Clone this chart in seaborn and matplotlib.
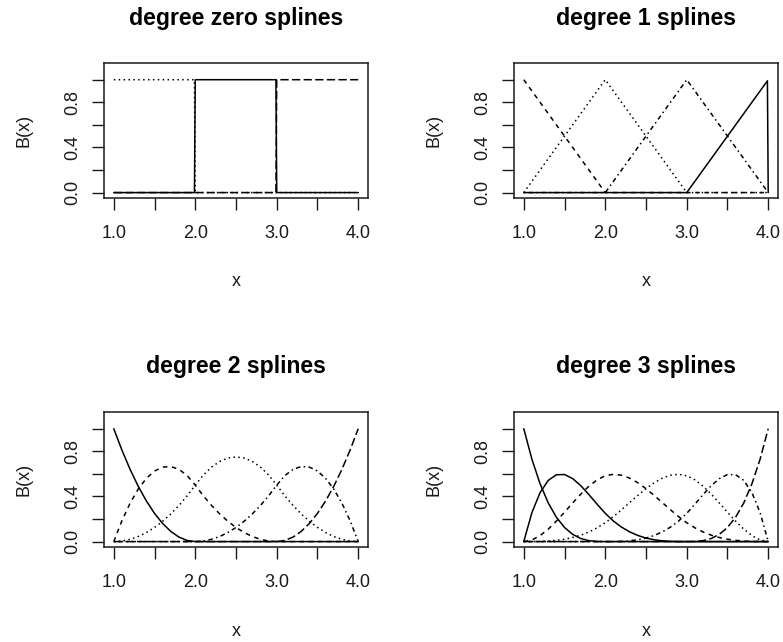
import matplotlib
matplotlib.use("Agg")
import matplotlib.pyplot as plt
import seaborn as sns

sns.set_style("ticks")
plt.rcParams["font.family"] = ["Liberation Sans", "DejaVu Sans"]

# ---- basis values --------------------------------------------------------
# degree zero: indicator functions on [1,2), [2,3), [3,4]
x_deg0 = [1.0, 1.99, 2.0, 2.99, 3.0, 4.0]
b0_1 = [1, 1, 0, 0, 0, 0]
b0_2 = [0, 0, 1, 1, 0, 0]
b0_3 = [0, 0, 0, 0, 1, 1]

# degree one: hat functions
x_deg1 = [1.0, 2.0, 3.0, 3.99, 4.0]
b1_1 = [1, 0, 0, 0, 0]
b1_2 = [0, 1, 0, 0, 0]
b1_3 = [0, 0, 1, 0.01, 0]
b1_4 = [0, 0, 0, 0.99, 0]

# degree two and three share one grid
x_grid = [1.0, 1.1, 1.2, 1.3, 1.4, 1.5, 1.6, 1.7, 1.8, 1.9, 2.0,
          2.1, 2.2, 2.3, 2.4, 2.5, 2.6, 2.7, 2.8, 2.9, 3.0,
          3.1, 3.2, 3.3, 3.4, 3.5, 3.6, 3.7, 3.8, 3.9, 4.0]

b2_1 = [1, .81, .64, .49, .36, .25, .16, .09, .04, .01, 0,
        0, 0, 0, 0, 0, 0, 0, 0, 0, 0,
        0, 0, 0, 0, 0, 0, 0, 0, 0, 0]
b2_2 = [0, .185, .34, .465, .56, .625, .66, .665, .64, .585, .5,
        .405, .32, .245, .18, .125, .08, .045, .02, .005, 0,
        0, 0, 0, 0, 0, 0, 0, 0, 0, 0]
b2_3 = [0, .005, .02, .045, .08, .125, .18, .245, .32, .405, .5,
        .59, .66, .71, .74, .75, .74, .71, .66, .59, .5,
        .405, .32, .245, .18, .125, .08, .045, .02, .005, 0]
b2_4 = [0, 0, 0, 0, 0, 0, 0, 0, 0, 0, 0,
        .005, .02, .045, .08, .125, .18, .245, .32, .405, .5,
        .585, .64, .665, .66, .625, .56, .465, .34, .185, 0]
b2_5 = [0, 0, 0, 0, 0, 0, 0, 0, 0, 0, 0,
        0, 0, 0, 0, 0, 0, 0, 0, 0, 0,
        .01, .04, .09, .16, .25, .36, .49, .64, .81, 1]

b3_1 = [1, .729, .512, .343, .216, .125, .064, .027, .008, .001, 0,
        0, 0, 0, 0, 0, 0, 0, 0, 0, 0,
        0, 0, 0, 0, 0, 0, 0, 0, 0, 0]
b3_2 = [0, .257, .434, .542, .592, .594, .558, .495, .416, .331, .25,
        .182, .128, .086, .054, .031, .016, .007, .002, 0, 0,
        0, 0, 0, 0, 0, 0, 0, 0, 0, 0]
b3_3 = [0, .014, .053, .110, .181, .260, .342, .421, .491, .547, .583,
        .596, .588, .562, .521, .469, .409, .346, .282, .221, .167,
        .122, .085, .057, .036, .021, .011, .005, .001, 0, 0]
b3_4 = [0, 0, .001, .005, .011, .021, .036, .057, .085, .122, .167,
        .221, .282, .346, .409, .469, .521, .562, .588, .596, .583,
        .547, .491, .421, .342, .260, .181, .110, .053, .014, 0]
b3_5 = [0, 0, 0, 0, 0, 0, 0, 0, 0, 0, 0,
        0, .002, .007, .016, .031, .054, .086, .128, .182, .25,
        .331, .416, .495, .558, .594, .592, .542, .434, .257, 0]
b3_6 = [0, 0, 0, 0, 0, 0, 0, 0, 0, 0, 0,
        0, 0, 0, 0, 0, 0, 0, 0, 0, 0,
        .001, .008, .027, .064, .125, .216, .343, .512, .729, 1]

titles = ["degree zero splines", "degree 1 splines",
          "degree 2 splines", "degree 3 splines"]
x_ticks = [1.0, 1.5, 2.0, 2.5, 3.0, 3.5, 4.0]
x_ticklabels = ["1.0", "", "2.0", "", "3.0", "", "4.0"]
y_ticks = [0.0, 0.2, 0.4, 0.6, 0.8, 1.0]
y_ticklabels = ["0.0", "", "0.4", "", "0.8", ""]

# ---- line types (in units of line width) ---------------------------------
SOLID = "-"
DASHED = (0, (3.0, 3.0))
DOTTED = (0, (1.0, 2.2))
DOTDASH = (0, (1.0, 2.2, 3.0, 2.2))
LONGDASH = (0, (5.4, 2.2))

panels = [
    (x_deg0, [b0_1, b0_2, b0_3], [DOTTED, SOLID, LONGDASH], (104, 63, 368, 198)),
    (x_deg1, [b1_1, b1_2, b1_3, b1_4], [DASHED, DOTTED, DOTDASH, SOLID], (514, 63, 778, 198)),
    (x_grid, [b2_1, b2_2, b2_3, b2_4, b2_5],
     [SOLID, DASHED, DOTTED, DOTDASH, LONGDASH], (104, 412, 368, 547)),
    (x_grid, [b3_1, b3_2, b3_3, b3_4, b3_5, b3_6],
     [SOLID, SOLID, DASHED, DOTTED, DOTDASH, LONGDASH], (514, 412, 778, 547)),
]

W, H = 783, 642
fig = plt.figure(figsize=(W / 100, H / 100), dpi=100)
fig.patch.set_facecolor("white")

INK = "#1a1a1a"
LW = 1.1

for title, (xs, curves, styles, box) in zip(titles, panels):
    left, top, right, bottom = box
    ax = fig.add_axes([left / W, 1 - bottom / H, (right - left) / W, (bottom - top) / H])
    for ys, ls in zip(curves, styles):
        sns.lineplot(x=xs, y=ys, ax=ax, color="black", lw=LW, linestyle=ls,
                     estimator=None, sort=False)
    ax.set_xlim(0.88, 4.12)
    ax.set_ylim(-0.048, 1.148)
    ax.set_xticks(x_ticks)
    ax.set_xticklabels(x_ticklabels)
    ax.set_yticks(y_ticks)
    ax.set_yticklabels(y_ticklabels, rotation=90, va="center")
    ax.tick_params(axis="both", direction="out", length=8.6, width=1.0,
                   color=INK, labelcolor=INK, labelsize=13)
    ax.tick_params(axis="x", pad=10.5)
    ax.tick_params(axis="y", pad=8.0)
    for sp in ax.spines.values():
        sp.set_visible(True)
        sp.set_color(INK)
        sp.set_linewidth(1.1)
    ax.set_facecolor("white")
    ax.grid(False)

    cx = (left + right) / 2
    fig.text(cx / W, 1 - (top - 45) / H, title, ha="center", va="center",
             fontsize=16.6, fontweight="bold", color="black")
    fig.text(cx / W, 1 - (bottom + 84) / H, "x", ha="center", va="center",
             fontsize=13, color=INK)
    fig.text((left - 80) / W, 1 - ((top + bottom) / 2) / H, "B(x)", ha="center",
             va="center", rotation=90, fontsize=13, color=INK)

fig.savefig("out.png", dpi=100, facecolor="white")
